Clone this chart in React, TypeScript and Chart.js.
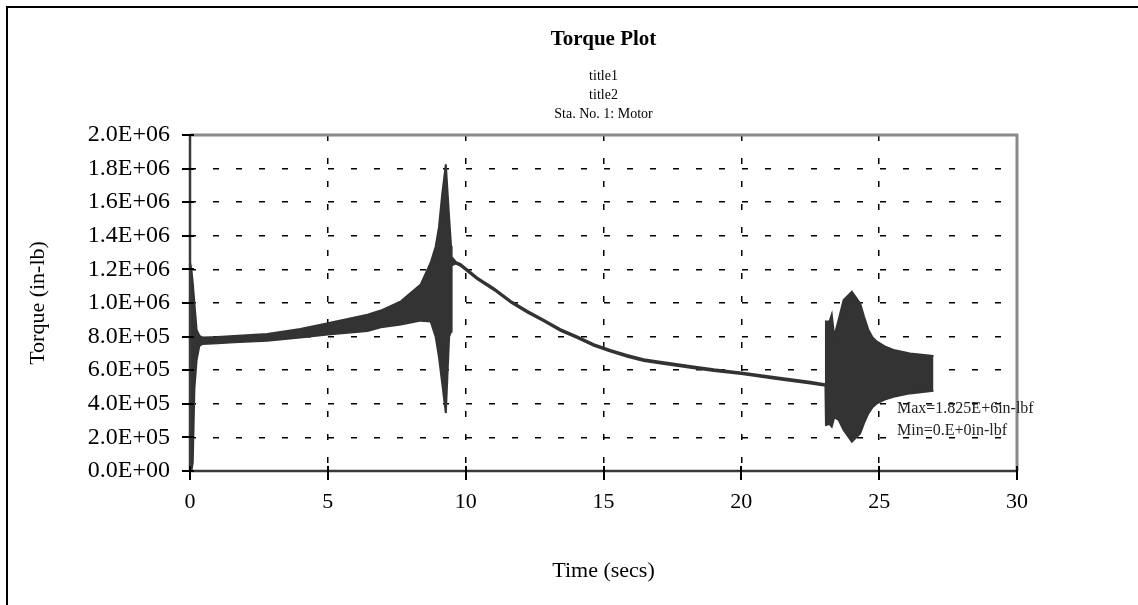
import React, { useEffect, useRef } from 'react';
import { Chart, registerables } from 'chart.js';

Chart.register(...registerables);

// ---- Data ----
// Time in seconds at which the envelope of the torque trace was read
const TIME_S = [
  0, 0.05, 0.1, 0.16, 0.24, 0.34, 0.45, 1.0, 1.6, 2.8, 4.0, 5.0, 6.44, 6.92, 7.65,
  8.37, 8.73, 8.91, 9.03, 9.15, 9.28, 9.4, 9.47, 9.49, 9.64, 9.82, 10.42, 11.03, 11.63,
  12.24, 12.84, 13.44, 14.05, 14.65, 15.25, 15.86, 16.46, 17.07, 18.27, 19.0, 20.0, 21.4,
  22.5, 23.05, 23.07, 23.2, 23.28, 23.37, 23.53, 23.71, 24.01, 24.31, 24.45, 24.61, 24.76,
  24.92, 25.2, 25.52, 26.12, 26.97,
];
// Upper envelope of the oscillating torque (in-lb)
const TORQUE_UPPER = [
  12.4e5, 12.0e5, 11.2e5, 10.0e5, 8.4e5, 8.05e5, 7.95e5, 7.98e5, 8.04e5, 8.15e5, 8.45e5,
  8.8e5, 9.3e5, 9.55e5, 10.1e5, 11.1e5, 12.4e5, 13.35e5, 14.5e5, 16.5e5, 18.25e5, 15.1e5,
  13.4e5, 12.75e5, 12.45e5, 12.31e5, 11.52e5, 10.87e5, 10.13e5, 9.53e5, 9.0e5, 8.44e5,
  8.01e5, 7.55e5, 7.21e5, 6.9e5, 6.65e5, 6.5e5, 6.22e5, 6.05e5, 5.87e5, 5.55e5, 5.31e5,
  5.17e5, 8.9e5, 8.9e5, 9.3e5, 8.0e5, 9.0e5, 10.18e5, 10.67e5, 9.98e5, 9.2e5, 8.39e5,
  7.95e5, 7.7e5, 7.42e5, 7.2e5, 7.0e5, 6.85e5,
];
// Lower envelope of the oscillating torque (in-lb)
const TORQUE_LOWER = [
  0, 0, 0.5e5, 4.9e5, 6.6e5, 7.45e5, 7.56e5, 7.6e5, 7.66e5, 7.76e5, 7.95e5, 8.12e5,
  8.33e5, 8.55e5, 8.72e5, 8.95e5, 8.9e5, 8.0e5, 6.8e5, 5.2e5, 3.45e5, 8.0e5, 8.3e5,
  12.25e5, 12.35e5, 12.21e5, 11.42e5, 10.77e5, 10.03e5, 9.43e5, 8.9e5, 8.34e5, 7.91e5,
  7.45e5, 7.11e5, 6.8e5, 6.55e5, 6.4e5, 6.12e5, 5.95e5, 5.77e5, 5.45e5, 5.21e5, 5.07e5,
  2.74e5, 2.8e5, 2.64e5, 3.2e5, 3.04e5, 2.44e5, 1.74e5, 2.24e5, 2.85e5, 3.43e5, 3.8e5,
  4.03e5, 4.25e5, 4.42e5, 4.62e5, 4.78e5,
];

const Y_TICK_LABELS = [
  '0.0E+00', '2.0E+05', '4.0E+05', '6.0E+05', '8.0E+05', '1.0E+06',
  '1.2E+06', '1.4E+06', '1.6E+06', '1.8E+06', '2.0E+06',
];
const X_TICK_LABELS = ['0', '5', '10', '15', '20', '25', '30'];

const TITLE = 'Torque Plot';
const SUBTITLES = ['title1', 'title2', 'Sta. No. 1: Motor'];
const X_TITLE = 'Time (secs)';
const Y_TITLE = 'Torque (in-lb)';
const NOTE_LINES = ['Max=1.825E+6in-lbf', 'Min=0.E+0in-lbf'];

const SERIF = "'Liberation Serif', 'Times New Roman', 'DejaVu Serif', serif";
const INK = '#333333';

const decorPlugin = {
  id: 'decor',
  afterDatasetsDraw(chart: any) {
    const { ctx, chartArea: a, scales } = chart;
    const xs = scales.x;
    const ys = scales.y;
    ctx.save();
    // top & right frame (gray)
    ctx.strokeStyle = '#8a8a8a';
    ctx.lineWidth = 3;
    ctx.beginPath();
    ctx.moveTo(a.left, a.top);
    ctx.lineTo(a.right, a.top);
    ctx.lineTo(a.right, a.bottom);
    ctx.stroke();
    // left & bottom axes
    ctx.strokeStyle = '#3a3a3a';
    ctx.lineWidth = 2.5;
    ctx.beginPath();
    ctx.moveTo(a.left, a.top);
    ctx.lineTo(a.left, a.bottom);
    ctx.lineTo(a.right, a.bottom);
    ctx.stroke();
    // cross ticks
    ctx.strokeStyle = '#000';
    ctx.lineWidth = 2;
    ctx.beginPath();
    ys.ticks.forEach((t: any) => {
      const py = Math.round(ys.getPixelForValue(t.value));
      ctx.moveTo(a.left - 8, py);
      ctx.lineTo(a.left + 4, py);
    });
    xs.ticks.forEach((t: any) => {
      const px = Math.round(xs.getPixelForValue(t.value));
      ctx.moveTo(px, a.bottom - 5);
      ctx.lineTo(px, a.bottom + 9);
    });
    ctx.stroke();
    ctx.restore();
  },
  afterDraw(chart: any) {
    const { ctx, chartArea: a } = chart;
    const cx = (a.left + a.right) / 2;
    ctx.save();
    ctx.fillStyle = '#000';
    ctx.textAlign = 'center';
    ctx.textBaseline = 'middle';
    ctx.font = `bold 21px ${SERIF}`;
    ctx.fillText(TITLE, cx, 40);
    ctx.font = `14px ${SERIF}`;
    SUBTITLES.forEach((s, i) => ctx.fillText(s, cx, 76 + i * 19));
    ctx.textAlign = 'left';
    ctx.font = `16px ${SERIF}`;
    ctx.fillStyle = '#222';
    NOTE_LINES.forEach((s, i) => ctx.fillText(s, 897, 409 + i * 22));
    ctx.restore();
  },
};

export default function App() {
  const ref = useRef<HTMLCanvasElement | null>(null);

  useEffect(() => {
    if (!ref.current) return;
    const upper = TIME_S.map((t, i) => ({ x: t, y: TORQUE_UPPER[i] }));
    const lower = TIME_S.map((t, i) => ({ x: t, y: TORQUE_LOWER[i] }));
    const chart = new Chart(ref.current, {
      type: 'line',
      data: {
        datasets: [
          {
            label: 'Torque (upper)',
            data: upper,
            borderColor: INK,
            borderWidth: 2,
            pointRadius: 0,
            fill: false,
            tension: 0,
          },
          {
            label: 'Torque (lower)',
            data: lower,
            borderColor: INK,
            borderWidth: 2,
            pointRadius: 0,
            fill: '-1',
            backgroundColor: INK,
            tension: 0,
          },
        ],
      },
      options: {
        animation: false,
        responsive: false,
        devicePixelRatio: 1,
        layout: { padding: { top: 135, left: 0, right: 121, bottom: 0 } },
        plugins: {
          legend: { display: false },
          tooltip: { enabled: false },
          title: { display: false },
        },
        scales: {
          x: {
            type: 'linear',
            min: 0,
            max: 30,
            afterFit: (s: any) => {
              s.height = 134;
            },
            ticks: {
              stepSize: 5,
              padding: 18,
              color: '#000',
              font: { family: SERIF, size: 22 },
              callback: (v: any, i: number) => X_TICK_LABELS[i],
            },
            grid: {
              color: '#000',
              lineWidth: 1.5,
              drawTicks: false,
            },
            border: { display: false, dash: [6, 17] },
            title: {
              display: true,
              text: X_TITLE,
              color: '#000',
              font: { family: SERIF, size: 22 },
              padding: { top: 0, bottom: 21 },
            },
          },
          y: {
            type: 'linear',
            min: 0,
            max: 2000000,
            afterFit: (s: any) => {
              s.width = 190;
            },
            ticks: {
              stepSize: 200000,
              padding: 20,
              color: '#000',
              font: { family: SERIF, size: 24 },
              callback: (v: any, i: number) => Y_TICK_LABELS[i],
            },
            grid: {
              color: '#000',
              lineWidth: 1.5,
              drawTicks: false,
            },
            border: { display: false, dash: [6, 17] },
            title: {
              display: true,
              text: Y_TITLE,
              color: '#000',
              font: { family: SERIF, size: 22 },
              padding: { top: 25, bottom: 0 },
            },
          },
        },
      },
      plugins: [decorPlugin],
    });
    return () => chart.destroy();
  }, []);

  return (
    <>
      <div
        style={{
          position: 'fixed',
          left: 6,
          top: 6,
          width: 1300,
          height: 800,
          border: '2px solid #000',
          pointerEvents: 'none',
        }}
      />
      <canvas
        ref={ref}
        width={1138}
        height={605}
        style={{ position: 'fixed', left: 0, top: 0, width: 1138, height: 605 }}
      />
    </>
  );
}
